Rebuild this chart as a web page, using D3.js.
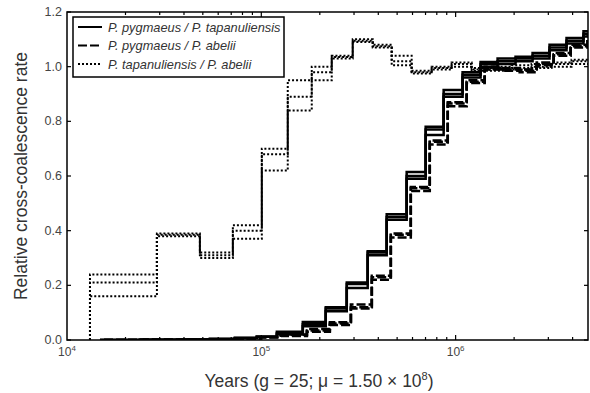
<!DOCTYPE html>
<html>
<head>
<meta charset="utf-8">
<script src="https://cdn.jsdelivr.net/npm/d3@7"></script>
<style>
  body { margin: 0; background: #fff; }
  text { font-family: "Liberation Sans", Arial, sans-serif; }
</style>
</head>
<body>
<svg id="chart" width="590" height="393"></svg>
<script>
// time boundaries (years) of the step curves
var bPygTap = [14780, 23730, 38100, 54360, 73090, 94820, 120200, 163500, 214600, 275300,
  352800, 441900, 559900, 701200, 867700, 1086000, 1344000, 1644000, 2034000, 2489000,
  3043000, 3722000, 4551000, 6192000];
var bPygAbe = bPygTap.map(function(t){ return t * 1.05 });
var bTapAbe = [13130, 29020, 48290, 71380, 100600, 136800, 181800, 230400, 295400, 374400,
  468800, 593900, 752500, 953700, 1209000, 1531000, 1941000, 2459000, 3116000, 3949000, 5501000];

// relative cross-coalescence, three runs per pair
var pygTap = [
  [0, 0.001, 0.002, 0.004, 0.007, 0.012, 0.03, 0.066, 0.12, 0.21, 0.325, 0.46, 0.615, 0.78, 0.915, 0.98, 1.017, 1.03, 1.036, 1.05, 1.08, 1.105, 1.13],
  [0, 0.001, 0.002, 0.004, 0.007, 0.012, 0.025, 0.058, 0.115, 0.205, 0.32, 0.45, 0.60, 0.77, 0.90, 0.97, 1.01, 1.02, 1.03, 1.04, 1.07, 1.095, 1.12],
  [0, 0.001, 0.002, 0.004, 0.007, 0.012, 0.02, 0.05, 0.105, 0.19, 0.31, 0.44, 0.59, 0.75, 0.89, 0.96, 1.0, 1.01, 1.02, 1.03, 1.06, 1.085, 1.11]
];
var pygAbe = [
  [0, 0.001, 0.002, 0.003, 0.005, 0.01, 0.02, 0.04, 0.065, 0.13, 0.235, 0.39, 0.56, 0.73, 0.87, 0.95, 1.0, 0.995, 0.99, 1.015, 1.05, 1.08, 1.11],
  [0, 0.001, 0.002, 0.003, 0.005, 0.01, 0.018, 0.035, 0.06, 0.12, 0.23, 0.385, 0.555, 0.725, 0.865, 0.945, 0.995, 0.99, 0.985, 1.01, 1.045, 1.075, 1.105],
  [0, 0.001, 0.002, 0.003, 0.005, 0.01, 0.015, 0.03, 0.055, 0.115, 0.22, 0.375, 0.545, 0.715, 0.855, 0.94, 0.99, 0.985, 0.98, 1.005, 1.04, 1.07, 1.10]
];
var tapAbe = [
  [0.24, 0.39, 0.32, 0.42, 0.70, 0.95, 1.0, 1.04, 1.10, 1.08, 1.04, 0.985, 1.0, 1.015, 0.995, 1.0, 1.005, 1.01, 1.015, 1.025],
  [0.21, 0.385, 0.31, 0.40, 0.68, 0.89, 0.98, 1.035, 1.095, 1.075, 1.02, 0.98, 0.995, 1.01, 0.99, 0.99, 0.995, 1.0, 1.01, 1.02],
  [0.16, 0.38, 0.30, 0.37, 0.62, 0.84, 0.95, 1.03, 1.09, 1.07, 1.005, 0.975, 0.99, 1.0, 0.985, 0.985, 0.99, 0.995, 1.0, 1.01]
];

var legendNames = ['P. pygmaeus / P. tapanuliensis', 'P. pygmaeus / P. abelii', 'P. tapanuliensis / P. abelii'];
var yTicks = [0, 0.2, 0.4, 0.6, 0.8, 1.0, 1.2];
var xMajor = [1e4, 1e5, 1e6];

var svg = d3.select('#chart');
var x = d3.scaleLog().domain([1e4, 4.8e6]).range([67, 588]);
var y = d3.scaleLinear().domain([0, 1.2]).range([340, 12]);

svg.append('clipPath').attr('id', 'plotclip')
  .append('rect').attr('x', 67).attr('y', 0).attr('width', 521).attr('height', 340);

var line = d3.line()
  .x(function(d){ return x(d[0]) })
  .y(function(d){ return y(d[1]) })
  .curve(d3.curveStepAfter);

//turn bounds + values into step points, starting from zero
function steps(bounds, vals){
  var pts = [[bounds[0], 0]];
  vals.forEach(function(v, i){ pts.push([bounds[i], v]) });
  pts.push([bounds[vals.length], vals[vals.length - 1]]);
  return pts;
}

var plot = svg.append('g').attr('clip-path', 'url(#plotclip)');

tapAbe.forEach(function(r){
  plot.append('path').attr('d', line(steps(bTapAbe, r)))
    .attr('fill', 'none').attr('stroke', '#000').attr('stroke-width', 2)
    .attr('stroke-dasharray', '2,2');
});
pygAbe.forEach(function(r){
  plot.append('path').attr('d', line(steps(bPygAbe, r)))
    .attr('fill', 'none').attr('stroke', '#000').attr('stroke-width', 2.5)
    .attr('stroke-dasharray', '9,3');
});
pygTap.forEach(function(r){
  plot.append('path').attr('d', line(steps(bPygTap, r)))
    .attr('fill', 'none').attr('stroke', '#000').attr('stroke-width', 2.5);
});

//frame
svg.append('rect').attr('x', 67).attr('y', 12).attr('width', 521).attr('height', 328)
  .attr('fill', 'none').attr('stroke', '#000').attr('stroke-width', 1.5);

//x ticks, inward on top and bottom
var xt = x.ticks();
xt.forEach(function(t){
  if (t <= 1e4) return;
  var major = xMajor.indexOf(t) >= 0;
  var len = major ? 5 : 3;
  var px = x(t);
  svg.append('line').attr('x1', px).attr('x2', px).attr('y1', 340).attr('y2', 340 - len)
    .attr('stroke', '#000').attr('stroke-width', 1.2);
  svg.append('line').attr('x1', px).attr('x2', px).attr('y1', 12).attr('y2', 12 + len)
    .attr('stroke', '#000').attr('stroke-width', 1.2);
});
xMajor.forEach(function(t){
  var lab = svg.append('text').attr('x', x(t)).attr('y', 356)
    .attr('text-anchor', 'middle').attr('font-size', 12).attr('fill', '#444');
  lab.append('tspan').text('10');
  lab.append('tspan').attr('font-size', 8).attr('dy', -5).text(Math.round(Math.log10(t)));
});

//y ticks
yTicks.forEach(function(v){
  svg.append('line').attr('x1', 67).attr('x2', 71).attr('y1', y(v)).attr('y2', y(v))
    .attr('stroke', '#000').attr('stroke-width', 1.2);
  svg.append('line').attr('x1', 588).attr('x2', 584).attr('y1', y(v)).attr('y2', y(v))
    .attr('stroke', '#000').attr('stroke-width', 1.2);
  svg.append('text').attr('x', 62).attr('y', y(v) + 4).attr('text-anchor', 'end')
    .attr('font-size', 12.5).attr('fill', '#444').text(v.toFixed(1));
});

//axis titles
svg.append('text').attr('transform', 'translate(27,176) rotate(-90)')
  .attr('text-anchor', 'middle').attr('font-size', 17.5).attr('fill', '#333')
  .text('Relative cross-coalescence rate');
var xl = svg.append('text').attr('x', 319).attr('y', 387).attr('text-anchor', 'middle')
  .attr('font-size', 17.5).attr('fill', '#333');
xl.append('tspan').text('Years (g = 25; \u03bc = 1.50 \u00d7 10');
xl.append('tspan').attr('font-size', 11).attr('dy', -7).text('8');
xl.append('tspan').attr('dy', 7).text(')');

//legend
var lg = svg.append('g');
lg.append('rect').attr('x', 73).attr('y', 17).attr('width', 211).attr('height', 60)
  .attr('fill', '#fff').attr('stroke', '#000').attr('stroke-width', 1.5);
var dashes = [null, '9,3', '2,2'];
legendNames.forEach(function(name, i){
  var ly = 27 + i * 18.5;
  lg.append('line').attr('x1', 78).attr('x2', 102).attr('y1', ly).attr('y2', ly)
    .attr('stroke', '#000').attr('stroke-width', 2)
    .attr('stroke-dasharray', dashes[i]);
  lg.append('text').attr('x', 108).attr('y', ly + 4.5).attr('font-size', 12.8)
    .attr('font-style', 'italic').attr('fill', '#333').text(name);
});
</script>
</body>
</html>
